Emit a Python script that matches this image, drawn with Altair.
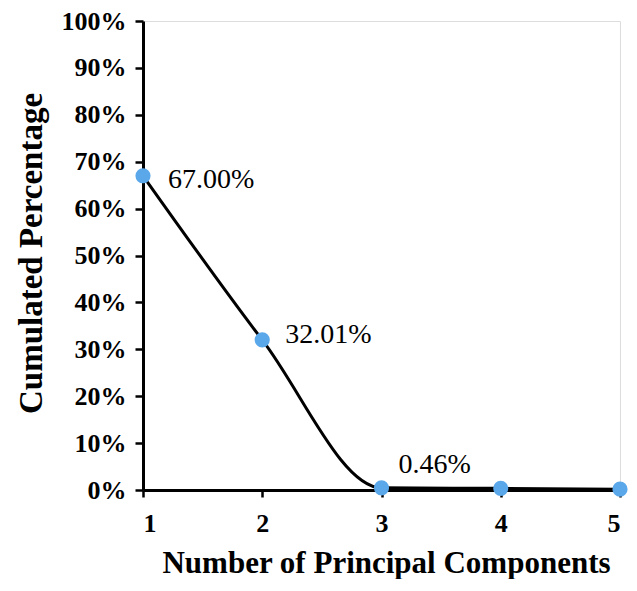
import altair as alt
import pandas as pd

components = [1, 2, 3, 4, 5]
percentages = [67.00, 32.01, 0.46, 0.35, 0.18]
labels = ["67.00%", "32.01%", "0.46%", "", ""]

df = pd.DataFrame({"pc": components, "pct": percentages, "label": labels})

FONT = "Liberation Serif"

x = alt.X(
    "pc:Q",
    scale=alt.Scale(domain=[1, 5], nice=False, zero=False),
    axis=alt.Axis(
        title="Number of Principal Components",
        values=[1, 2, 3, 4, 5],
        format="d",
        grid=False,
        domainColor="black",
        domainWidth=3,
        tickColor="black",
        tickWidth=2.5,
        tickSize=7,
        labelPadding=13,
        labelFont=FONT,
        labelFontSize=26,
        labelFontWeight="bold",
        labelColor="black",
        titleFont=FONT,
        titleFontSize=31,
        titleFontWeight="bold",
        titleColor="black",
        titleX=243,
        titleY=82,
        titleAnchor="middle",
        titleAlign="center",
        titleBaseline="alphabetic",
    ),
)
y = alt.Y(
    "pct:Q",
    scale=alt.Scale(domain=[0, 100], nice=False),
    axis=alt.Axis(
        title="Cumulated Percentage",
        values=list(range(0, 101, 10)),
        labelExpr="datum.value + '%'",
        grid=False,
        domainColor="black",
        domainWidth=3,
        tickColor="black",
        tickWidth=2.5,
        tickSize=8,
        labelPadding=9,
        labelFont=FONT,
        labelFontSize=26,
        labelFontWeight="bold",
        labelColor="black",
        titleFont=FONT,
        titleFontSize=33,
        titleFontWeight="bold",
        titleColor="black",
        titleX=-95,
        titleY=232,
        titleAngle=-90,
        titleAlign="center",
        titleBaseline="bottom",
    ),
)

base = alt.Chart(df)
line = base.mark_line(color="black", strokeWidth=3, interpolate="monotone").encode(x=x, y=y)
points = base.mark_point(filled=True, opacity=1, size=230, color="#5aa7ea").encode(x=x, y=y)


def label_layer(pc, dx, dy):
    return alt.Chart(df[df.pc == pc]).mark_text(
        align="left", baseline="middle", dx=dx, dy=dy, font=FONT, fontSize=28, color="black"
    ).encode(x=x, y=y, text="label:N")


chart = (
    alt.layer(line, points, label_layer(1, 25, 4), label_layer(2, 23, -5), label_layer(3, 17, -23))
    .properties(
        width=477,
        height=469,
        autosize=alt.AutoSizeParams(type="none"),
        padding={"left": 135, "top": 13, "right": 9, "bottom": 89},
    )
    .configure_view(stroke="black", strokeWidth=2.5)
    .configure(background="white")
)

chart.save("out.html", embed_options={"renderer": "svg", "actions": False})
